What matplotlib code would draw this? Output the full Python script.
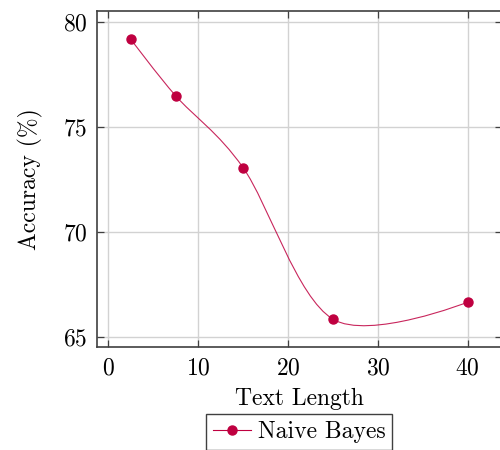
import matplotlib
matplotlib.use('Agg')
import matplotlib.pyplot as plt
import numpy as np
from matplotlib.path import Path
from matplotlib.patches import PathPatch

text_length = [2.5, 7.5, 15, 25, 40]
accuracy = [79.2, 76.5, 73.08, 65.86, 66.67]
x_ticks = [0, 10, 20, 30, 40]
y_ticks = [65, 70, 75, 80]
series_label = 'Naive Bayes'

plt.rcParams['font.family'] = 'serif'
plt.rcParams['font.serif'] = ['cmr10']
plt.rcParams['mathtext.fontset'] = 'cm'
plt.rcParams['axes.formatter.use_mathtext'] = True

COLOR = '#bf0040'
TENSION = 0.16


def smooth_path(xs, ys, tension=TENSION):
  """Cubic Bezier path through the points, like TikZ 'smooth'."""
  pts = np.column_stack([xs, ys]).astype(float)
  n = len(pts)
  verts = [pts[0]]
  codes = [Path.MOVETO]
  for i in range(n - 1):
    prev_pt = pts[i - 1] if i > 0 else pts[i]
    next_pt = pts[i + 2] if i + 2 < n else pts[i + 1]
    c1 = pts[i] + tension * (pts[i + 1] - prev_pt) if i > 0 else pts[i]
    c2 = pts[i + 1] - tension * (next_pt - pts[i]) if i + 2 < n else pts[i + 1]
    verts += [c1, c2, pts[i + 1]]
    codes += [Path.CURVE4] * 3
  return Path(verts, codes)


W, H = 500, 450
fig = plt.figure(figsize=(5, 4.5), dpi=100)
left, right, top, bottom = 97, 501.5, 11, 347.3
ax = fig.add_axes([left / W, 1 - bottom / H, (right - left) / W, (bottom - top) / H])

ax.set_xlim(-1.25, 43.75)
ax.set_ylim(64.52, 80.54)
ax.set_xticks(x_ticks)
ax.set_yticks(y_ticks)
ax.grid(True, color='#d2d2d2', linewidth=1.0)
ax.set_axisbelow(True)
ax.tick_params(direction='in', length=5, width=0.9, color='#404040',
               top=True, right=True, labelsize=17, pad=7)
for spine in ax.spines.values():
  spine.set_color('#404040')
  spine.set_linewidth(1.2)

ax.add_patch(PathPatch(smooth_path(text_length, accuracy), facecolor='none',
                       edgecolor=COLOR, linewidth=0.8, alpha=0.85,
                       transform=ax.transData, zorder=3))
ax.plot(text_length, accuracy, linestyle='none', marker='o', markersize=6.5,
        color=COLOR, zorder=4)

ax.set_xlabel('Text Length', fontsize=17, labelpad=6)
ax.set_ylabel('Accuracy (%)', fontsize=17, labelpad=14)

handle = plt.Line2D([], [], color=COLOR, linewidth=0.8, marker='o', markersize=6.5)
fig.legend([handle], [series_label], loc='upper center',
           bbox_to_anchor=(299 / W, 1 - 414 / H), fontsize=17, frameon=True,
           fancybox=False, edgecolor='#404040', framealpha=1,
           handlelength=1.6, handletextpad=0.3, borderpad=0.3, borderaxespad=0)

fig.savefig('out.png', dpi=100)
